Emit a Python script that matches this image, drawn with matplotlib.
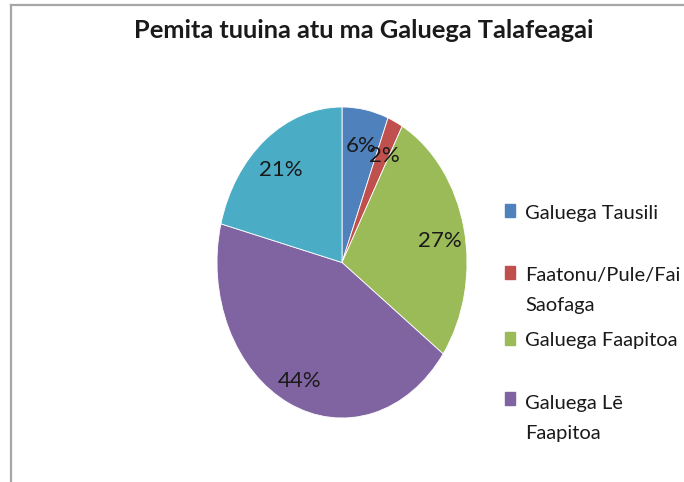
import matplotlib.pyplot as plt
from matplotlib.patches import Rectangle
from matplotlib.lines import Line2D
from matplotlib.transforms import ScaledTranslation

# data
labels = ['Galuega Tausili', 'Faatonu/Pule/Fai\nSaofaga', 'Galuega Faapitoa',
          'Galuega Lē\nFaapitoa', '']
values = [6, 2, 27, 44, 21]
colors = ['#4F81BD', '#C0504D', '#9BBB59', '#8064A2', '#4BACC6']

W, H = 684, 482
fig = plt.figure(figsize=(W / 100, H / 100), dpi=100)

fam = ['Lato', 'DejaVu Sans']

# chart-area border (only top and left visible)
fig.add_artist(Line2D([11 / W, 11 / W], [0, 1 - 5 / H], transform=fig.transFigure,
                      color='#A6A6A6', lw=1.6))
fig.add_artist(Line2D([11 / W, 1], [1 - 5 / H, 1 - 5 / H], transform=fig.transFigure,
                      color='#A6A6A6', lw=1.6))

fig.text(364 / W, 1 - 31 / H, 'Pemita tuuina atu ma Galuega Talafeagai',
         ha='center', va='center', fontsize=18.3, fontweight='bold',
         family=fam, color='#1a1a1a')

# pie, squeezed horizontally like the source image
ax = fig.add_axes([217 / W, 1 - 418 / H, 250 / W, 311 / H])
wedges, texts, autotexts = ax.pie(values, colors=colors, startangle=90, counterclock=False,
                                  autopct='%1.0f%%', pctdistance=0.8, radius=1,
                                  wedgeprops=dict(linewidth=0.6, edgecolor='white'))
shift = ScaledTranslation(0, -6 / 100, fig.dpi_scale_trans)
for t in autotexts:
    t.set_fontsize(16)
    t.set_family(fam)
    t.set_color('#1a1a1a')
    t.set_transform(ax.transData + shift)
ax.set_aspect('auto')
ax.set_xlim(-1, 1)
ax.set_ylim(-1, 1)

# legend (Excel layout, last entry cut off by the crop)
box_y = [210, 272, 338, 398]
text_top = [205, 267, 332, 395]
for i in range(4):
    fig.add_artist(Rectangle((505 / W, 1 - (box_y[i] + 6.5) / H), 10 / W, 13 / H,
                             transform=fig.transFigure, color=colors[i]))
    fig.text(525 / W, 1 - text_top[i] / H, labels[i], ha='left', va='top',
             fontsize=14.5, family=fam, color='#1a1a1a', linespacing=1.95)

fig.savefig('out.png', dpi=100)
